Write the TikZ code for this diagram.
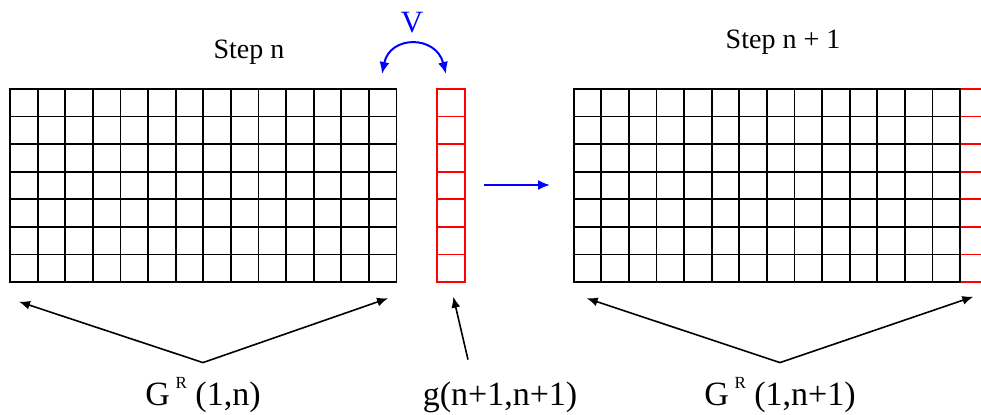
\documentclass[tikz,border=0pt]{standalone}
\usepackage{fontspec}
\setmainfont{Liberation Serif}
\usetikzlibrary{arrows.meta, positioning}
\tikzset{
    % Grid cells - black lines
    cell line/.style={black, line width=0.9pt, line cap=rect},
    % Newly added column - red lines
    new cell/.style={red, line width=0.9pt, line cap=rect},
    % Arrows from the labels to the grids - black, filled heads
    label arrow/.style={black, line width=0.8pt, -{Latex[length=5.5pt, width=4.5pt]}},
    % Blue arrows (step to step, swap V)
    blue arrow/.style={blue, line width=1pt, -{Latex[length=6pt, width=5pt]}},
    swap arrow/.style={blue, line width=1pt, {Latex[length=6pt, width=5pt]}-{Latex[length=6pt, width=5pt]}},
    % Text styles
    step label/.style={anchor=base, inner sep=0pt, font=\fontsize{14}{16}\selectfont},
    swap label/.style={anchor=base, inner sep=0pt, text=blue, font=\fontsize{15.5}{18}\selectfont},
    grid label/.style={anchor=base, inner sep=0pt, text height=21.5pt, font=\fontsize{17}{20}\selectfont}
}
\newcommand{\Rsup}{\,\raisebox{0.5em}{\fontsize{8.5}{9}\selectfont R}}

\begin{document}
\begin{tikzpicture}[x=0.5pt, y=-0.5pt]
    \clip (0,0) rectangle (981,415);
    \def\cell{27.6}

    % --- Set up coordinates ---
    % Arrow tips under the grids
    \coordinate (old left) at (19,301.7);
    \coordinate (old right) at (388,298.3);
    \coordinate (col tip) at (453.3,296.7);
    \coordinate (upd left) at (586.7,298.3);
    \coordinate (upd right) at (973.3,296.7);
    % Blue step arrow and swap arc ends
    \coordinate (step from) at (484,185);
    \coordinate (step to) at (550,185);
    \coordinate (swap left) at (382,74);
    \coordinate (swap right) at (446,74);

    % --- Draw Step n grid (14 x 7) ---
    \foreach \i in {0,...,14}
        \draw[cell line] (10+\i*\cell,89) -- ++(0,7*\cell);
    \foreach \j in {0,...,7}
        \draw[cell line] (10,89+\j*\cell) -- ++(14*\cell,0);

    % --- Draw new column g ---
    \draw[new cell] (437,89) -- ++(0,7*\cell);
    \draw[new cell] (437+\cell,89) -- ++(0,7*\cell);
    \foreach \j in {0,...,7}
        \draw[new cell] (437,89+\j*\cell) -- ++(\cell,0);

    % --- Draw Step n+1 grid (new column on the right) ---
    \draw[new cell] (573.7+15*\cell,89) -- ++(0,7*\cell);
    \foreach \j in {0,...,7}
        \draw[new cell] (573.7+14*\cell,89+\j*\cell) -- ++(\cell,0);
    \foreach \i in {0,...,14}
        \draw[cell line] (573.7+\i*\cell,89) -- ++(0,7*\cell);
    \foreach \j in {0,...,7}
        \draw[cell line] (573.7,89+\j*\cell) -- ++(14*\cell,0);

    % --- Titles ---
    \node[step label] (stepn) at (249,59) {Step n};
    \node[step label] (stepnext) at (783,49) {Step n + 1};
    \node[swap label] (vlabel) at (412,33) {V};

    % --- Blue arrows ---
    \draw[swap arrow] (swap left) .. controls (390,35) and (436,35) .. (swap right);
    \draw[blue arrow] (step from) -- (step to);

    % --- Labels and their arrows ---
    \node[grid label] (gold) at (203,406) {G\Rsup\ (1,n)};
    \node[grid label] (gnew) at (500,406) {g(n+1,n+1)};
    \node[grid label] (gupd) at (780,406) {G\Rsup\ (1,n+1)};

    \draw[label arrow] (gold.north) -- (old left);
    \draw[label arrow] (gold.north) -- (old right);
    \draw[label arrow] ([xshift=-16pt, yshift=1.5pt]gnew.north) -- (col tip);
    \draw[label arrow] (gupd.north) -- (upd left);
    \draw[label arrow] (gupd.north) -- (upd right);

\end{tikzpicture}
\end{document}
